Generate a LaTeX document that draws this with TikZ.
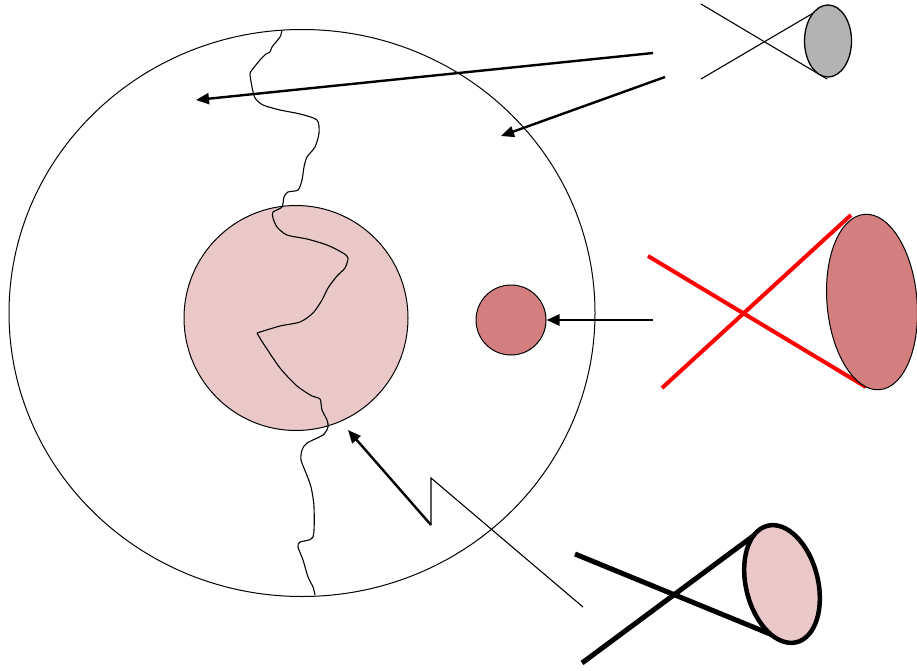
\documentclass[tikz,border=0pt]{standalone}
\usetikzlibrary{shapes.geometric,arrows.meta}
\definecolor{pinkfill}{RGB}{234,200,200}
\definecolor{rosefill}{RGB}{212,127,127}
\definecolor{greyfill}{RGB}{179,179,179}
\tikzset{
  ring/.style={draw=black,line width=1pt,ellipse,inner sep=0pt},
  pointer/.style={draw=black,line width=2.4pt,-{Triangle[length=13pt,width=11pt]}},
  thinline/.style={draw=black,line width=1.1pt},
  redray/.style={draw=red,line width=4pt},
  boldray/.style={draw=black,line width=5pt},
}
\begin{document}
\begin{tikzpicture}[x=1pt,y=-1pt]
\useasboundingbox (0,0) rectangle (917,671);
% main circle
\node[ring,minimum width=586pt,minimum height=567pt] (earth) at (302,313) {};
% core
\node[ring,fill=pinkfill,minimum width=224pt,minimum height=225pt] (core) at (296,318) {};
% crack
\draw[line width=1.1pt] plot[smooth,tension=0.45] coordinates {(282,30) (280,37) (272,47) (270,52) (266,54) (260,60) (252,70) (250,74) (252,87) (255,98) (263,105) (280,110) (300,114) (317,120) (319,133) (315,147) (307,157) (304,167) (302,180) (298,190) (288,192) (284,197) (282,207) (273,212) (273,218) (277,227) (287,235) (307,239) (327,245) (343,253) (348,258) (345,268) (337,276) (328,288) (322,300) (313,313) (300,322) (280,326) (257,333)};
\draw[line width=1.1pt] plot[smooth,tension=0.45] coordinates {(257,333) (263,343) (280,368) (297,386) (312,396) (320,399) (322,410) (327,420) (328,427) (323,435) (307,443) (302,450) (301,460) (306,473) (311,487) (314,507) (313,537) (300,542) (298,547) (303,560) (308,577) (313,587) (315,595)};
% small body
\node[draw=black,line width=1pt,circle,fill=rosefill,minimum size=70pt,inner sep=0pt] (moon) at (511,320) {};
% arrows
\coordinate (a1s) at (653,53);
\coordinate (a1e) at (196,100);
\coordinate (a2s) at (665,77);
\coordinate (a2e) at (501,136);
\coordinate (a3s) at (653,320);
\draw[pointer] (a1s) -- (a1e);
\draw[pointer] (a2s) -- (a2e);
\draw[pointer] (a3s) -- (moon.east);
% zigzag
\coordinate (z0) at (583,607);
\coordinate (z1) at (431,478);
\coordinate (z2) at (431,525);
\coordinate (z3) at (348,430);
\draw[thinline,line join=miter] (z0) -- (z1) -- (z2);
\draw[pointer] (z2) -- (z3);
% top right cone
\coordinate (g1) at (701,4);
\coordinate (g2) at (701,79);
\coordinate (g3) at (827,79);
\coordinate (g4) at (827,5);
\draw[thinline] (g1) -- (g3);
\draw[thinline] (g2) -- (g4);
\node[draw=black,line width=1.3pt,ellipse,fill=greyfill,minimum width=47pt,minimum height=72pt,inner sep=0pt] (grey) at (828,41) {};
% red cone
\coordinate (r1) at (648,256);
\coordinate (r2) at (866,387);
\coordinate (r3) at (662,388);
\coordinate (r4) at (851,215);
\draw[redray] (r1) -- (r2);
\draw[redray] (r3) -- (r4);
\node[draw=black,line width=1pt,ellipse,fill=rosefill,minimum width=90pt,minimum height=176pt,inner sep=0pt,rotate=5] (redcone) at (872,302) {};
% bold cone
\coordinate (b1) at (575,554);
\coordinate (b2) at (775,636);
\coordinate (b3) at (582,663);
\coordinate (b4) at (764,528);
\draw[boldray] (b1) -- (b2);
\draw[boldray] (b3) -- (b4);
\node[draw=black,line width=4.5pt,ellipse,fill=pinkfill,minimum width=72pt,minimum height=120pt,inner sep=0pt,rotate=14] (boldcone) at (782,584) {};
\end{tikzpicture}
\end{document}
